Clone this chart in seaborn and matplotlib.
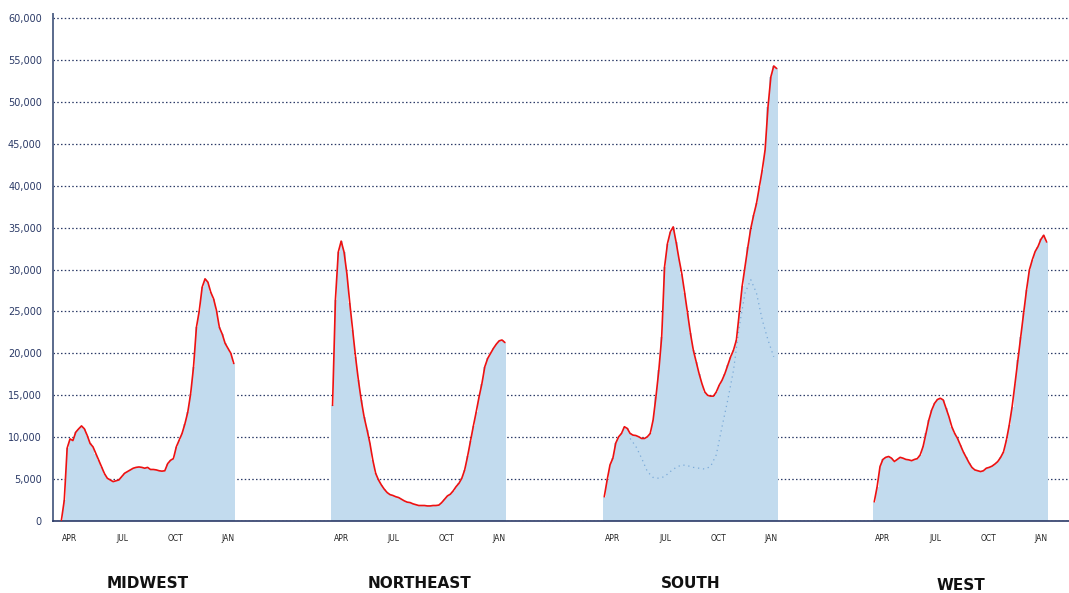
import pandas as pd
import numpy as np
import seaborn as sns
import matplotlib.pyplot as plt
from matplotlib.transforms import blended_transform_factory

# days counted from April 1, sampled every 5 days (mid-March to mid-January)
days = list(range(-15, 290, 5))

midwest = [100, 2500, 8700, 9800, 9600, 10600, 11000, 11350, 11000, 10200,
           9250, 8850, 8050, 7250, 6450, 5650, 5100, 4900, 4700, 4800,
           4900, 5300, 5700, 5900, 6100, 6300, 6400, 6450, 6400, 6300,
           6400, 6150, 6150, 6100, 6000, 5950, 6000, 6850, 7250, 7450,
           8850, 9650, 10450, 11600, 13000, 15200, 18400, 23100, 25100, 27900,
           28900, 28500, 27300, 26500, 25100, 23100, 22300, 21200, 20600, 20000,
           18800]
northeast = [13800, 26400, 32100, 33400, 32100, 29500, 26000, 22800, 19600, 16800,
             14400, 12400, 10900, 9300, 7300, 5700, 4900, 4300, 3800, 3400,
             3150, 3050, 2900, 2800, 2600, 2400, 2250, 2200, 2050, 1950,
             1850, 1850, 1850, 1800, 1800, 1850, 1850, 1900, 2200, 2600,
             3000, 3200, 3600, 4100, 4500, 5100, 6100, 7700, 9500, 11300,
             13000, 14800, 16400, 18400, 19400, 20000, 20600, 21100, 21500, 21600,
             21300]
south = [2900, 4900, 6700, 7500, 9300, 10050, 10450, 11250, 11050, 10450,
         10250, 10200, 10050, 9850, 9850, 10050, 10450, 12050, 14850, 18000,
         22000, 30350, 33100, 34500, 35100, 33300, 31300, 29500, 27200, 24800,
         22400, 20400, 19000, 17600, 16400, 15400, 15000, 14900, 14900, 15400,
         16200, 16800, 17600, 18600, 19600, 20400, 21600, 24800, 28000, 30350,
         32700, 34900, 36500, 37900, 39900, 41900, 44300, 49400, 53000, 54300,
         54000]
west = [2300, 4100, 6500, 7350, 7600, 7700, 7500, 7100, 7350, 7600,
        7500, 7350, 7300, 7200, 7350, 7450, 7900, 8900, 10450, 12050,
        13250, 14050, 14500, 14650, 14450, 13450, 12450, 11250, 10450, 9850,
        9050, 8250, 7600, 6950, 6400, 6100, 6000, 5900, 6000, 6300,
        6400, 6550, 6800, 7100, 7600, 8250, 9650, 11450, 13650, 16400,
        19200, 22000, 24800, 27550, 29950, 31150, 32150, 32750, 33600, 34100,
        33300]

# faint second trace visible inside the South bars
south_other_days = list(range(30, 290, 10))
south_other = [9850, 8900, 7500, 5900, 5200, 5100, 5300, 5900, 6400, 6700,
               6600, 6400, 6300, 6200, 6500, 7900, 11250, 14450, 18000, 23200,
               27200, 28800, 27200, 24000, 21600, 19600]

regions = ['MIDWEST', 'NORTHEAST', 'SOUTH', 'WEST']
offsets = [0, 472, 945, 1415]
month_labels = ['APR', 'JUL', 'OCT', 'JAN']
month_days = [0, 91, 183, 275]
y_ticks = list(range(0, 60001, 5000))

values = dict(zip(regions, [midwest, northeast, south, west]))
rows = []
for region, off in zip(regions, offsets):
    for d, v in zip(days, values[region]):
        rows.append({'region': region, 'x': off + d, 'cases': v})
df = pd.DataFrame(rows)

navy = '#2b3a67'
bar_blue = '#c2dbee'

sns.set_style('white')
plt.rcParams['font.family'] = ['DejaVu Sans']

fig = plt.figure(figsize=(10.69, 5.93), dpi=100)
ax = fig.add_axes([0.0496, 0.1214, 0.9504, 0.855])

for region in regions:
    sub = df[df['region'] == region]
    ax.bar(sub['x'], sub['cases'], width=5.2, color=bar_blue, linewidth=0, zorder=2)
    sns.lineplot(data=sub, x='x', y='cases', color='#ee1111', linewidth=1.2,
                 ax=ax, zorder=4)

ax.plot([offsets[2] + d for d in south_other_days], south_other, color='#7aaad8',
        linestyle=(0, (1, 3)), linewidth=0.9, zorder=3)

ax.set_xlim(-29.6, 1739)
ax.set_ylim(0, 60500)
ax.set_yticks(y_ticks)
ax.set_yticklabels(['{:,}'.format(t) for t in y_ticks], fontsize=7, color=navy)
ax.yaxis.grid(True, linestyle=(0, (1.2, 1.8)), color=navy, linewidth=0.9)
ax.set_axisbelow(True)

xt, xl = [], []
for off in offsets:
    for lab, d in zip(month_labels, month_days):
        xt.append(off + d)
        xl.append(lab)
ax.set_xticks(xt)
ax.set_xticklabels(xl, fontsize=5.5, color='#222222')
ax.tick_params(axis='both', length=0)
ax.tick_params(axis='x', pad=9)
ax.tick_params(axis='y', pad=8)
ax.set_xlabel('')
ax.set_ylabel('')

for side in ['top', 'right']:
    ax.spines[side].set_visible(False)
ax.spines['left'].set_color('#5a6a8c')
ax.spines['left'].set_linewidth(1.4)
ax.spines['bottom'].set_color(navy)
ax.spines['bottom'].set_linewidth(1.2)

trans = blended_transform_factory(ax.transData, fig.transFigure)
label_y = [583, 583, 584, 586]
for region, off, py in zip(regions, offsets, label_y):
    ax.text(off + 136, (593 - py) / 593, region, transform=trans, ha='center',
            va='center', fontsize=11, fontweight='bold', color='#111111')

plt.savefig('out.png', dpi=100)
